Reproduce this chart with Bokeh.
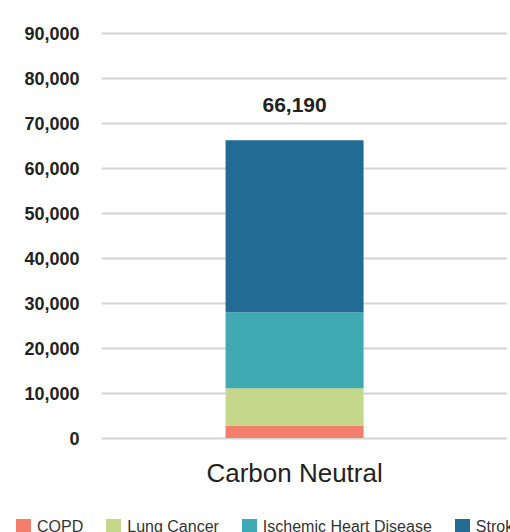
from bokeh.plotting import figure
from bokeh.layouts import column
from bokeh.models import (ColumnDataSource, Range1d, FixedTicker, NumeralTickFormatter, Div)
from bokeh.core.properties import value
from bokeh.embed import file_html
from bokeh.resources import INLINE

# ---- data ----
scenarios = ["Carbon Neutral"]
causes = ["COPD", "Lung Cancer", "Ischemic Heart Disease", "Stroke"]
copd = [2800]
lung_cancer = [8250]
ischemic_heart_disease = [16900]
stroke = [38240]
colors = ["#F37E6B", "#C5D78B", "#3FA9B4", "#226B94"]
y_ticks = [0, 10000, 20000, 30000, 40000, 50000, 60000, 70000, 80000, 90000]

FONT = "Liberation Sans"

x_idx = list(range(len(scenarios)))
totals = [a + b + c + d for a, b, c, d in zip(copd, lung_cancer, ischemic_heart_disease, stroke)]

source = ColumnDataSource(data={
    "x": x_idx,
    "COPD": copd,
    "Lung Cancer": lung_cancer,
    "Ischemic Heart Disease": ischemic_heart_disease,
    "Stroke": stroke,
})

p = figure(width=510, height=512, output_backend="svg", toolbar_location=None,
           x_range=Range1d(-1.399, 1.543), y_range=Range1d(-1000, 91000),
           min_border_left=101, min_border_right=3, min_border_top=28, min_border_bottom=70)
p.outline_line_color = None
p.background_fill_color = "white"
p.border_fill_color = "white"

p.vbar_stack(causes, x="x", width=1.0, source=source, color=colors, line_color=None)

# total labels
p.text(x=x_idx, y=totals, text=[f"{t:,}" for t in totals], text_align="center",
       text_baseline="alphabetic", y_offset=-35, text_font=value(FONT),
       text_font_style="bold", text_font_size="21px", text_color="#222222")

# axes
p.xaxis.ticker = FixedTicker(ticks=x_idx)
p.xaxis.major_label_overrides = {i: s for i, s in zip(x_idx, scenarios)}
p.xaxis.major_label_text_font = FONT
p.xaxis.major_label_text_font_size = "26px"
p.xaxis.major_label_text_font_style = "normal"
p.xaxis.major_label_text_color = "#222222"
p.xaxis.major_label_standoff = 9
p.xaxis.axis_line_color = None
p.xaxis.major_tick_line_color = None
p.xaxis.minor_tick_line_color = None

p.yaxis.ticker = FixedTicker(ticks=y_ticks)
p.yaxis.formatter = NumeralTickFormatter(format="0,0")
p.yaxis.major_label_text_font = FONT
p.yaxis.major_label_text_font_size = "18px"
p.yaxis.major_label_text_font_style = "bold"
p.yaxis.major_label_text_color = "#222222"
p.yaxis.major_label_standoff = 16
p.yaxis.axis_line_color = None
p.yaxis.major_tick_line_color = None
p.yaxis.minor_tick_line_color = None

p.xgrid.visible = False
p.ygrid.ticker = FixedTicker(ticks=y_ticks)
p.ygrid.grid_line_color = "#D4D4D4"
p.ygrid.grid_line_width = 2

# ---- legend strip below the chart ----
items_html = "".join(
    f'<div style="display:flex;align-items:center;gap:6px;flex:none;">'
    f'<span style="display:inline-block;width:15px;height:15px;background:{c};"></span>'
    f'<span style="line-height:15px;">{name}</span></div>'
    for name, c in zip(causes, colors)
)
legend_html = (
    f'<div style="display:flex;flex-wrap:nowrap;align-items:flex-start;gap:23px;'
    f'box-sizing:border-box;width:510px;height:20px;overflow:hidden;'
    f'padding:7px 0 0 16px;margin:0;white-space:nowrap;'
    f"font-family:'{FONT}';font-size:16px;color:#333333;\">{items_html}</div>"
)
legend_div = Div(text=legend_html, width=510, height=20, margin=0)

layout = column(p, legend_div, spacing=0)
open("out.html", "w").write(file_html(layout, INLINE))
